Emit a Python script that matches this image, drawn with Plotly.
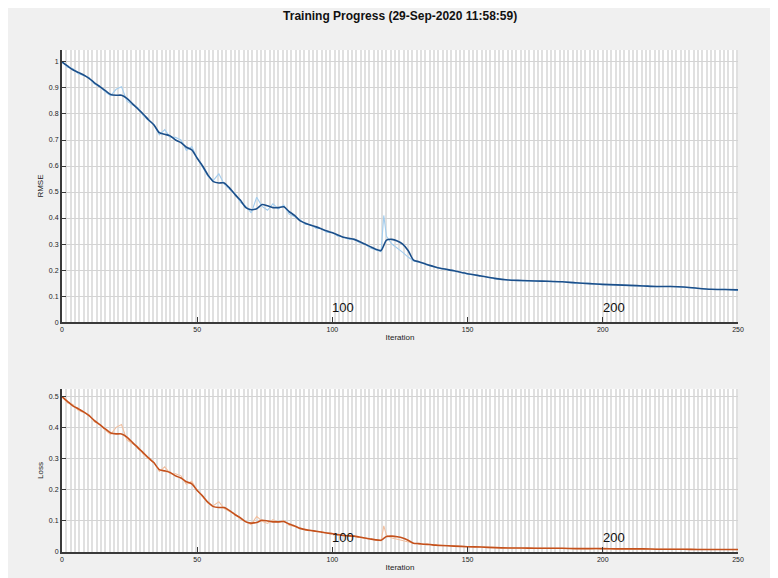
import plotly.graph_objects as go

iterations = [0,2,4,6,8,10,12,14,16,18,20,22,24,26,28,30,32,34,36,38,40,42,44,46,48,50,
              52,54,56,58,60,62,64,66,68,70,72,74,76,78,80,82,84,86,88,90,92,94,96,98,100,
              102,104,106,108,110,112,114,116,118,119,120,122,124,126,128,130,132,134,136,138,140,
              145,150,155,160,165,170,175,180,185,190,195,200,205,210,215,220,225,230,235,240,245,250]

rmse_smooth = [1.0,0.985,0.97,0.96,0.95,0.937,0.92,0.905,0.89,0.875,0.872,0.872,0.86,0.84,0.82,0.80,
               0.778,0.758,0.728,0.722,0.716,0.70,0.69,0.672,0.662,0.63,0.60,0.565,0.54,0.535,0.535,
               0.515,0.49,0.468,0.44,0.432,0.436,0.452,0.447,0.44,0.44,0.443,0.425,0.41,0.39,0.38,
               0.372,0.366,0.358,0.35,0.343,0.335,0.326,0.322,0.318,0.31,0.30,0.29,0.28,0.275,0.295,
               0.315,0.318,0.312,0.30,0.275,0.238,0.232,0.225,0.218,0.212,0.207,0.197,0.186,0.177,
               0.168,0.162,0.16,0.158,0.157,0.155,0.151,0.148,0.145,0.143,0.141,0.139,0.137,0.137,
               0.135,0.13,0.126,0.125,0.124]

rmse_raw = [1.0,0.98,0.975,0.955,0.948,0.94,0.915,0.905,0.885,0.87,0.895,0.905,0.85,0.835,0.825,0.795,
            0.775,0.76,0.72,0.74,0.71,0.71,0.70,0.66,0.675,0.63,0.595,0.56,0.545,0.57,0.53,0.51,
            0.495,0.46,0.445,0.42,0.48,0.445,0.43,0.455,0.435,0.45,0.415,0.405,0.395,0.375,0.375,
            0.36,0.36,0.345,0.345,0.33,0.328,0.318,0.32,0.305,0.30,0.285,0.278,0.27,0.41,0.33,0.30,
            0.285,0.268,0.25,0.235,0.23,0.223,0.217,0.213,0.205,0.198,0.184,0.178,0.166,0.163,0.158,
            0.159,0.155,0.156,0.149,0.149,0.144,0.144,0.14,0.14,0.136,0.138,0.134,0.131,0.125,0.126,0.122]

loss_smooth = [0.5,0.485,0.470,0.461,0.451,0.439,0.423,0.410,0.396,0.383,0.380,0.380,0.370,0.353,0.336,
               0.320,0.303,0.287,0.265,0.261,0.256,0.245,0.238,0.226,0.219,0.198,0.180,0.160,0.146,0.143,
               0.143,0.133,0.120,0.110,0.097,0.093,0.095,0.102,0.100,0.097,0.097,0.098,0.090,0.084,0.076,
               0.072,0.069,0.067,0.064,0.061,0.059,0.056,0.053,0.052,0.051,0.048,0.045,0.042,0.039,0.038,
               0.044,0.050,0.051,0.049,0.045,0.038,0.028,0.027,0.025,0.024,0.022,0.021,0.019,0.017,0.016,
               0.014,0.013,0.013,0.012,0.012,0.012,0.011,0.011,0.011,0.010,0.010,0.010,0.009,0.009,0.009,
               0.008,0.008,0.008,0.008]

loss_raw = [0.5,0.480,0.475,0.456,0.449,0.442,0.419,0.410,0.392,0.378,0.401,0.410,0.361,0.349,0.340,
            0.316,0.300,0.289,0.259,0.274,0.252,0.252,0.245,0.218,0.228,0.198,0.177,0.157,0.149,0.162,
            0.140,0.130,0.123,0.106,0.099,0.088,0.115,0.099,0.092,0.104,0.095,0.101,0.086,0.082,0.078,
            0.070,0.070,0.065,0.065,0.060,0.060,0.054,0.054,0.051,0.051,0.047,0.045,0.041,0.039,0.036,
            0.084,0.054,0.045,0.041,0.036,0.031,0.028,0.026,0.025,0.024,0.023,0.021,0.020,0.017,0.016,
            0.014,0.013,0.012,0.013,0.012,0.012,0.011,0.011,0.010,0.010,0.010,0.010,0.009,0.010,0.009,
            0.009,0.008,0.008,0.007]

x_ticks = [0, 50, 100, 150, 200, 250]
epoch_labels = [100, 200]
title_text = "Training Progress (29-Sep-2020 11:58:59)"

FONT = "Liberation Sans, Arial, sans-serif"
AXC = "#3a3a3a"

fig = go.Figure()
fig.add_trace(go.Scatter(x=iterations, y=rmse_raw, mode="lines",
                         line=dict(color="#a3cdee", width=1.1), xaxis="x", yaxis="y", showlegend=False))
fig.add_trace(go.Scatter(x=iterations, y=rmse_smooth, mode="lines",
                         line=dict(color="#1b4f8a", width=1.6, shape="spline", smoothing=0.6),
                         xaxis="x", yaxis="y", showlegend=False))
fig.add_trace(go.Scatter(x=iterations, y=loss_raw, mode="lines",
                         line=dict(color="#f2c0a0", width=1.1), xaxis="x2", yaxis="y2", showlegend=False))
fig.add_trace(go.Scatter(x=iterations, y=loss_smooth, mode="lines",
                         line=dict(color="#c4511c", width=1.6, shape="spline", smoothing=0.6),
                         xaxis="x2", yaxis="y2", showlegend=False))

def xax(anchor):
    return dict(range=[0, 250], tickvals=x_ticks, ticks="inside", ticklen=5, tickwidth=1,
                tickcolor=AXC, showline=True, linecolor=AXC, linewidth=2, showgrid=False,
                zeroline=False, anchor=anchor, automargin=False,
                tickfont=dict(family=FONT, size=7, color="#222"),
                title=dict(text="Iteration", font=dict(family=FONT, size=8, color="#222"), standoff=2),
                minor=dict(dtick=1.6, tick0=0, showgrid=True, gridcolor="#e0e0e0", gridwidth=2.2, ticklen=0))

def yax(anchor, rng, dtick, domain, title):
    return dict(range=rng, dtick=dtick, ticks="inside", ticklen=4, tickwidth=1, tickcolor=AXC,
                showline=True, linecolor=AXC, linewidth=2, showgrid=True, gridcolor="#d4d4d4",
                gridwidth=1, zeroline=False, anchor=anchor, domain=domain, automargin=False,
                tickformat="~g",
                tickfont=dict(family=FONT, size=7, color="#222"),
                title=dict(text=title, font=dict(family=FONT, size=8, color="#222"), standoff=4))

annotations = []
for ep in epoch_labels:
    for yref in ("y", "y2"):
        annotations.append(dict(x=ep, xref="x" if yref == "y" else "x2", y=0, yref=yref,
                                text=str(ep), showarrow=False, xanchor="left", yanchor="bottom",
                                yshift=5, xshift=-2, font=dict(family=FONT, size=13, color="#111")))

fig.update_layout(
    width=778, height=578,
    margin=dict(l=54, r=48, t=42, b=34),
    paper_bgcolor="#f0f0f0", plot_bgcolor="#ffffff",
    title=dict(text="<b>" + title_text + "</b>", x=0.504, xanchor="center", y=0.993, yanchor="top",
               pad=dict(t=0, b=0), font=dict(family=FONT, size=12, color="#111")),
    xaxis=xax("y"),
    yaxis=yax("x", [0, 1.046], 0.1, [0.458, 1.0], "RMSE"),
    xaxis2=xax("y2"),
    yaxis2=yax("x2", [0, 0.525], 0.1, [0.0, 0.325], "Loss"),
    annotations=annotations,
)

fig.write_html("out.html")
